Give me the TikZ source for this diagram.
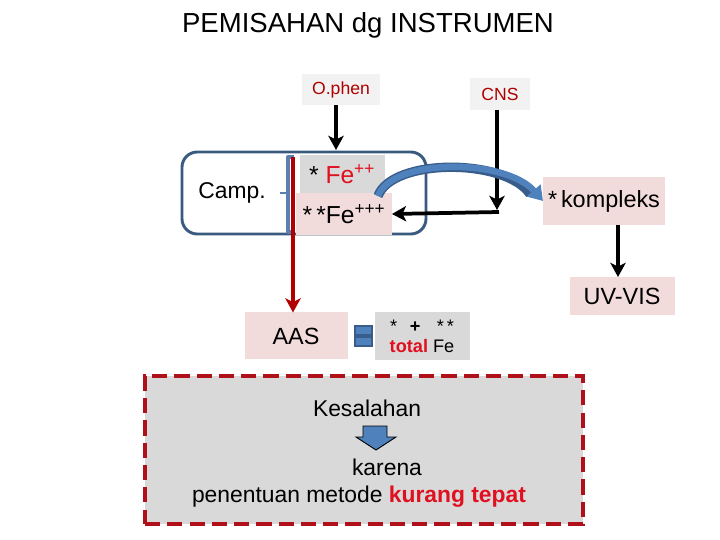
\documentclass[tikz,border=0pt]{standalone}
\usepackage{fontspec}
\setmainfont{Liberation Sans}
\usetikzlibrary{arrows.meta}
\definecolor{pinkfill}{HTML}{F2DCDB}
\definecolor{grayfill}{HTML}{D9D9D9}
\definecolor{lightfill}{HTML}{F2F2F2}
\definecolor{darkred}{HTML}{B00000}
\definecolor{brightred}{HTML}{E01020}
\definecolor{boxblue}{HTML}{3B5A80}
\definecolor{arrblue}{HTML}{4F81BD}
\definecolor{arrdark}{HTML}{385D8A}
\definecolor{dashred}{HTML}{B0101A}
\definecolor{brkblue}{HTML}{5A7FB0}
\tikzset{
  px/.style={x=0.03cm,y=-0.03cm},
  tbox/.style={inner sep=0pt, outer sep=0pt, align=center},
  pinkbox/.style={tbox, fill=pinkfill},
  graybox/.style={tbox, fill=grayfill},
  lightbox/.style={tbox, fill=lightfill},
  blackarrow/.style={draw=black, line width=3.2pt, -{Stealth[length=12pt,width=13pt,inset=3pt]}},
  redarrow/.style={draw=darkred, line width=3.2pt, -{Stealth[length=12pt,width=13pt,inset=3pt]}},
}
\newcommand{\fsz}[1]{\fontsize{#1}{#1}\selectfont}
\begin{document}
\begin{tikzpicture}[px]
\useasboundingbox (0,0) rectangle (720,540);
% title
\node[tbox] (title) at (368,25) {\fsz{23.5pt}PEMISAHAN dg INSTRUMEN};
% top input boxes
\node[lightbox, minimum width=78*0.03cm, minimum height=31*0.03cm] (ophen) at (341,90) {\fsz{15pt}\color{darkred}O.phen};
\node[lightbox, minimum width=60*0.03cm, minimum height=32*0.03cm] (cns) at (500,94) {\fsz{15pt}\color{darkred}CNS};
% container
\node[draw=boxblue, line width=2.5pt, rounded corners=13pt, minimum width=244*0.03cm, minimum height=82*0.03cm, inner sep=0pt] (cont) at (304,193) {};
\node[tbox] (camp) at (232,193) {\fsz{19.5pt}Camp.};
% Fe boxes
\node[graybox, minimum width=85*0.03cm, minimum height=38*0.03cm] (fe2) at (342,174) {\fsz{21pt}* \color{brightred}Fe\textsuperscript{++}};
\node[pinkbox, minimum width=96*0.03cm, minimum height=42*0.03cm] (fe3) at (344,214) {\fsz{21pt}*\,*Fe\textsuperscript{+++}};
% bracket and stub
\coordinate (bt) at (294,157);
\coordinate (bb) at (294,232);
\coordinate (stub) at (280,193);
\draw[brkblue, line width=3.5pt, line join=round] (bt) -- ++(-6,0) coordinate (btl) -- ++(0,75) coordinate (bbl) -- (bb);
\draw[brkblue, line width=2.5pt] (stub) -- (stub -| btl);
% right side boxes
\node[pinkbox, minimum width=122*0.03cm, minimum height=48*0.03cm] (komp) at (604,201) {\fsz{20pt}*\,kompleks};
\node[pinkbox, minimum width=105*0.03cm, minimum height=38*0.03cm] (uv) at (622,296) {\fsz{20pt}UV-VIS};
% bottom row
\node[pinkbox, minimum width=103*0.03cm, minimum height=47*0.03cm] (aas) at (296,336) {\fsz{20pt}AAS};
\node[graybox, minimum width=95*0.03cm, minimum height=48*0.03cm] (tot) at (422,336) {\fsz{15.5pt}*\hspace{0.7em}\textbf{+}\hspace{0.9em}*\,*\\[5pt]\fsz{15.5pt}\textbf{\color{brightred}total} Fe};
% equal sign
\node[tbox, minimum width=18*0.03cm, minimum height=22*0.03cm] (eq) at (363,336) {};
\fill[arrblue, draw=arrdark, line width=1pt] (355,326) rectangle (372,335);
\fill[arrblue, draw=arrdark, line width=1pt] (355,337) rectangle (372,346);
% red line arrow to AAS
\draw[redarrow] (293,157) -- (aas.north -| 293,0);
% black arrows
\draw[blackarrow] (ophen.south -| 336,0) -- (336,150);
\coordinate (cnsturn) at (497,212);
\draw[blackarrow] (cns.south -| 497,0) -- (497,210);
\draw[blackarrow] (cnsturn) ++(2,0) -- (fe3.east);
\draw[blackarrow] (komp.south -| 618,0) -- (uv.north -| 618,0);
% curved blue arrow
\draw[arrdark, line width=8pt] (378,196) .. controls (392,158) and (505,158) .. (530,194);
\draw[arrblue, line width=5.5pt, -{Triangle[length=12pt,width=15pt]}] (378,196) .. controls (392,158) and (505,158) .. (komp.west);
% dashed box
\node[fill=grayfill, draw=dashred, line width=3.5pt, dash pattern=on 13pt off 6pt, minimum width=438*0.03cm, minimum height=148*0.03cm, inner sep=0pt] (err) at (364,450) {};
\node[tbox] (kes) at (367,408) {\fsz{19.5pt}Kesalahan};
\fill[arrblue, draw=black, line width=0.8pt] (363,426) -- (387,426) -- (387,437) -- (396,437) -- (376,450) -- (356,437) -- (363,437) -- cycle;
\node[tbox] (kar) at (387,467) {\fsz{19.5pt}karena};
\node[tbox] (pen) at (359,497) {\fsz{19.5pt}penentuan metode \textbf{\color{brightred}kurang tepat}};
\end{tikzpicture}
\end{document}
